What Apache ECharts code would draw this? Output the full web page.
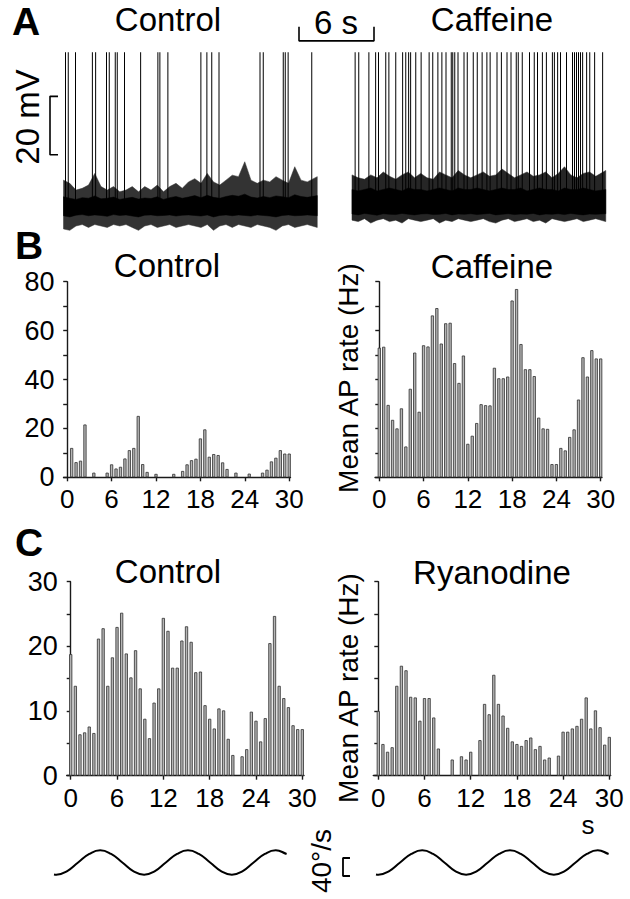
<!DOCTYPE html>
<html><head><meta charset="utf-8">
<script src="https://cdn.jsdelivr.net/npm/echarts@6/dist/echarts.min.js"></script>
<style>html,body{margin:0;padding:0;background:#fff}#c{width:630px;height:899px}</style>
</head><body><div id="c"></div>
<script>
// ---------- DATA ----------
const binTimes = [0,0.6,1.2,1.8,2.4,3,3.6,4.2,4.8,5.4,6,6.6,7.2,7.8,8.4,9,9.6,10.2,10.8,11.4,12,12.6,13.2,13.8,14.4,15,15.6,16.2,16.8,17.4,18,18.6,19.2,19.8,20.4,21,21.6,22.2,22.8,23.4,24,24.6,25.2,25.8,26.4,27,27.6,28.2,28.8,29.4,30];
const xTickValues = [0,6,12,18,24,30];
const rateControlB = [0,12,6.2,6.8,21.6,0,1.9,0,0,1.9,5.3,3.6,4.3,7.7,11.1,12,25.1,5.4,2.2,0,1.4,0,0,0,1.4,0,2.6,5.3,7,7.6,15.9,19.6,8.4,9.5,9.1,6.1,3.4,0,1.9,0,0,1.5,0,0,1.9,3.1,6.5,8,11.1,9.7,9.7];
const rateCaffeine = [53,53.4,29.6,23.5,20,28.2,12.6,36.2,51,26.8,54,53.5,66.2,69.2,54.7,63,63.2,46.7,38.6,49.8,13.7,17,22.2,29.9,29.5,29.4,44.8,40.5,40.5,41.2,72.3,77,54.5,44.2,44.2,41.4,24.4,20,19.8,5.4,5.4,12,11,16.5,19.6,31.8,49.1,41.2,52,48.6,48.6];
const rateControlC = [18.8,13.9,6.4,6.7,7.6,6.6,21.2,22.8,13.9,18.3,23.0,25.2,18.9,15.2,19.4,13.5,8.8,5.8,11.3,13.5,24.4,22.4,16.7,16.7,20.9,23.1,20.7,16.0,16.1,10.9,8.8,7.3,10.4,10.1,5.7,3.2,0,3.0,4.1,9.9,8.5,5.3,8.9,20.5,24.7,13.9,12.0,10.6,7.8,7.2,7.2];
const rateRyanodine = [10,4.9,3.7,4.4,13.9,17,16.3,12.2,12.1,8.5,12,12,9,4.2,0,0,2.5,0,3,2.5,3.7,0,5.5,11.1,9.5,15.6,11.1,9.3,7.4,5.3,4.9,4.6,5.5,5.9,4.1,4.6,2.5,2.8,0,3.1,6.8,6.8,7.3,7.7,8.8,12.1,7.3,10.1,7.5,4.8,6.0];

// Panel A: spike times (s) and membrane-noise envelope (mV relative to baseline), every 0.5 s
const spikeTimesControl = [0.16,0.38,0.96,2.31,2.57,3.44,3.66,4.14,4.30,4.88,6.17,7.55,7.71,8.35,10.99,11.47,11.86,12.44,15.72,15.98,17.58,17.74,17.97,19.86];
const spikeTimesCaffeine = [0.25,0.54,1.35,1.89,2.12,2.7,2.95,3.5,4.05,4.3,4.53,4.69,5.1,5.53,6.17,6.46,6.87,7.19,7.52,7.94,8.06,8.22,8.48,8.96,9.22,9.7,10.02,10.41,10.79,11.05,11.6,11.95,12.4,12.72,13.14,13.3,13.62,14.2,14.58,14.84,15.23,15.55,16.03,16.19,16.45,16.68,17.16,17.64,17.8,17.96,18.12,18.28,18.45,18.77,19.02,19.41,20.05];
const envTimes = [0,0.5,1,1.5,2,2.5,3,3.5,4,4.5,5,5.5,6,6.5,7,7.5,8,8.5,9,9.5,10,10.5,11,11.5,12,12.5,13,13.5,14,14.5,15,15.5,16,16.5,17,17.5,18,18.5,19,19.5,20.3];
const fringeTopControl = [9.2,8.1,5.8,6.4,7.5,11.5,7,5.8,7,5.2,5.8,7,5.2,7,5.8,7.5,5.2,7,8.1,6.4,8.6,9.7,8.1,11.5,8.6,7.5,9.2,10.9,10.4,15.5,9.2,8.1,9.2,8.6,10.4,9.2,8.1,13.8,9.2,8.6,10.4];
const coreTopControl = [3.5,3,2.6,3.2,3,3.8,2.8,3,3.4,2.6,3,3.3,2.7,3.1,2.9,3.5,2.6,3.2,3.6,3,3.4,3.9,3.2,4,3.3,3,3.6,4,3.7,4.4,3.4,3.1,3.6,3.2,3.8,3.5,3.2,4.2,3.6,3.3,3.9];
const coreBotControl = [-3,-3.4,-2.8,-2.6,-3,-2.7,-2.9,-3.2,-2.6,-2.9,-2.7,-3.1,-3.4,-2.8,-2.7,-3,-2.9,-2.7,-3.1,-2.8,-2.7,-2.9,-3.1,-2.7,-3.4,-2.9,-2.7,-3,-2.7,-2.9,-3.1,-2.7,-2.9,-3.1,-3.4,-2.9,-2.7,-3,-2.9,-2.7,-3];
const fringeBotControl = [-7.5,-8,-6.5,-6,-7,-6,-6.5,-7,-6,-6.5,-6,-7,-8,-6.5,-6,-7,-6.5,-6,-7,-6.5,-6,-6.5,-7,-6,-8,-6.5,-6,-7,-6,-6.5,-7,-6,-6.5,-7,-8,-6.5,-6,-7,-6.5,-6,-7];
const fringeTopCaffeine = [11,10,9.5,11,10,12,10.5,9.5,11,12,10,11.5,10,9.5,12,11,10,12.5,11,10,11,12,10.5,11,13,11.5,10,11,12,10.5,11,12,10,11.5,13.8,11,10,11.5,12,10.5,12.5];
const coreTopCaffeine = [6,5.5,6,6.5,5.5,6,6.5,6,5.5,6.5,6,6,5.5,6,6.5,6,5.5,6.5,6,6,6.5,6,5.5,6,6.5,6,6,6.5,5.5,6,6.5,6,6,5.5,6.5,6,6,6.5,6,5.5,6];
const coreBotCaffeine = [-2.4,-2.7,-2.2,-2.5,-2.8,-2.3,-2.5,-2.6,-2.2,-2.5,-2.7,-2.4,-2.3,-2.6,-2.5,-2.2,-2.7,-2.4,-2.5,-2.3,-2.6,-2.4,-2.2,-2.7,-2.5,-2.3,-2.6,-2.4,-2.5,-2.2,-2.7,-2.4,-2.5,-2.3,-2.6,-2.2,-2.5,-2.7,-2.4,-2.5,-2.3];
const fringeBotCaffeine = [-4.5,-5,-4,-5.5,-4.5,-4,-5,-4.5,-5.5,-4,-4.5,-5,-4.5,-4,-5.5,-4.5,-5,-4,-4.5,-5,-4.5,-4,-5,-5.5,-4.5,-4,-5,-4.5,-4,-5,-4.5,-5.5,-4,-4.5,-5,-4.5,-4,-5,-4.5,-4,-5];
const spikePeak = 53; // mV above baseline (traces clip here)

// Stimulus (head velocity, deg/s)
const stimTimes = [0,0.3,1.7,3.1,4.55,5.95,7.35,8.8,10.2,11.6,13.0,14.4,15.85,17.25,18.65,20.1,21.5,22.9,24.3,25.7,27.15,28.55,29.95,30];
const stimVel = [-26.5,-27,-19,0,19,27,19,0,-19,-27,-19,0,19,27,19,0,-19,-27,-19,0,19,27,19,18.5];

// ---------- LAYOUT ----------
const FONT = '"Liberation Sans", Arial, Helvetica, sans-serif';
const AX = '#1a1a1a';
const pxA = {t0: 63.5, sPerPx: 1/12.5, base: 207, pxPerMv: 2.92};
const caffOffset = (352 - 63.5) / 12.5;
const stimPxPerS = 233 / 30;

const chart = echarts.init(document.getElementById('c'), null, {renderer: 'svg', width: 630, height: 899});

function gridBox(left, top, width, height) { return {left, top, width, height, containLabel: false}; }
const grids = [
  gridBox(0, 0, 630, 240),             // 0 panel A
  gridBox(63.5, 281.7, 227, 195.6),    // 1 B control
  gridBox(375, 281.7, 227, 195.6),     // 2 B caffeine
  gridBox(66.7, 581.7, 237.3, 194),    // 3 C control
  gridBox(373.3, 581.7, 237.4, 194),   // 4 C ryanodine
  gridBox(54, 840, 233, 45),           // 5 stimulus left
  gridBox(340, 840, 269, 45)           // 6 stimulus right (+ scale bracket)
];

function histX(gi, min, max) {
  return {type: 'value', gridIndex: gi, min, max,
    axisLine: {show: true, onZero: false, lineStyle: {color: AX, width: 1.4}},
    axisTick: {show: true, customValues: xTickValues, length: 4, lineStyle: {color: AX, width: 1.4}},
    axisLabel: {show: true, customValues: xTickValues, fontSize: 26, fontFamily: FONT, color: '#000', margin: 9},
    splitLine: {show: false}};
}
function histY(gi, max, interval, labelStep, showLabels) {
  return {type: 'value', gridIndex: gi, min: 0, max, interval,
    axisLine: {show: true, lineStyle: {color: AX, width: 1.4}},
    axisTick: {show: true, length: 4, lineStyle: {color: AX, width: 1.4}},
    axisLabel: {show: showLabels, fontSize: 27, fontFamily: FONT, color: '#000', margin: 9,
      formatter: v => (v % labelStep === 0 ? String(v) : '')},
    splitLine: {show: false}};
}
const hidden = {show: false};
function hiddenAxis(gi, min, max) {
  return {type: 'value', gridIndex: gi, min, max, axisLine: hidden, axisTick: hidden, axisLabel: hidden, splitLine: hidden};
}

const xAxis = [
  hiddenAxis(0, -pxA.t0 * pxA.sPerPx, (630 - pxA.t0) * pxA.sPerPx),
  histX(1, -0.5, -0.5 + 227 / 7.4),
  histX(2, -0.58, -0.58 + 227 / 7.38),
  histX(3, -0.52, -0.52 + 237.3 / 7.72),
  histX(4, -0.65, -0.65 + 237.4 / 7.7),
  hiddenAxis(5, 0, 30),
  hiddenAxis(6, 30 - 269 / stimPxPerS, 30)
];
const yAxis = [
  hiddenAxis(0, (pxA.base - 240) / pxA.pxPerMv, pxA.base / pxA.pxPerMv),
  histY(1, 80, 10, 20, true),
  histY(2, 80, 10, 20, false),
  histY(3, 30, 5, 10, true),
  histY(4, 30, 5, 10, false),
  hiddenAxis(5, -50, 50),
  hiddenAxis(6, -50, 50)
];

function barSeries(gi, vals) {
  return {type: 'bar', xAxisIndex: gi, yAxisIndex: gi, barWidth: 3.2,
    data: binTimes.map((t, i) => [t, vals[i]]).filter(d => d[1] > 0),
    itemStyle: {color: '#b6b6b6', borderColor: '#383838', borderWidth: 0.85},
    silent: true, animation: false};
}

function bandSeries(offset, top, bot, fill) {
  return {type: 'custom', xAxisIndex: 0, yAxisIndex: 0, data: [0], silent: true, animation: false, clip: false,
    renderItem: (params, api) => {
      const pts = [];
      envTimes.forEach((t, i) => pts.push(api.coord([t + offset, top[i]])));
      for (let i = envTimes.length - 1; i >= 0; i--) pts.push(api.coord([envTimes[i] + offset, bot[i]]));
      return {type: 'polygon', shape: {points: pts}, style: {fill, stroke: fill, lineWidth: 0.5}};
    }};
}
function spikeSeries(offset, times) {
  return {type: 'custom', xAxisIndex: 0, yAxisIndex: 0, data: times.map(t => [t + offset]), silent: true, animation: false,
    renderItem: (params, api) => {
      const t = api.value(0);
      const a = api.coord([t, 0]);
      const b = api.coord([t, spikePeak]);
      return {type: 'line', shape: {x1: a[0], y1: a[1], x2: b[0], y2: b[1]}, style: {stroke: '#000', lineWidth: 1}};
    }};
}
function pathSeries(gi, pts, w) {
  return {type: 'line', xAxisIndex: gi, yAxisIndex: gi, data: pts, showSymbol: false, symbol: 'none',
    lineStyle: {color: '#000', width: w}, silent: true, animation: false};
}
// scale bars (in the data units of their panels)
const sb6s = [[18.84, 61.7], [18.84, 56.9], [24.84, 56.9], [24.84, 61.7]];
const sb20mV = [[-0.44, 37.9], [-1.08, 37.9], [-1.08, 17.9], [-0.44, 17.9]];
const sb40deg = [[-3.35, 10], [-4.25, 10], [-4.25, -30], [-3.35, -30]];

const stimPts = stimTimes.map((t, i) => [t, stimVel[i]]);
function stimSeries(gi) {
  return {type: 'line', xAxisIndex: gi, yAxisIndex: gi, data: stimPts, smooth: 0.5, showSymbol: false, symbol: 'none',
    lineStyle: {color: '#000', width: 2}, silent: true, animation: false};
}

function txt(text, x, y, size, opts = {}) {
  return {type: 'text', x, y, rotation: opts.rot || 0, silent: true,
    style: {text, fontSize: size, fontFamily: FONT, fontWeight: opts.bold ? 'bold' : 'normal', fill: '#000',
      align: 'center', verticalAlign: 'middle'}};
}

const option = {
  animation: false,
  backgroundColor: '#fff',
  grid: grids, xAxis, yAxis,
  series: [
    bandSeries(0, fringeTopControl, fringeBotControl, '#333'),
    bandSeries(0, coreTopControl, coreBotControl, '#000'),
    bandSeries(caffOffset, fringeTopCaffeine, fringeBotCaffeine, '#262626'),
    bandSeries(caffOffset, coreTopCaffeine, coreBotCaffeine, '#000'),
    spikeSeries(0, spikeTimesControl),
    spikeSeries(caffOffset, spikeTimesCaffeine),
    pathSeries(0, sb6s, 1.6),
    pathSeries(0, sb20mV, 1.6),
    pathSeries(6, sb40deg, 1.8),
    barSeries(1, rateControlB),
    barSeries(2, rateCaffeine),
    barSeries(3, rateControlC),
    barSeries(4, rateRyanodine),
    stimSeries(5),
    stimSeries(6)
  ],
  graphic: [
    txt('A', 26, 21, 39, {bold: true}),
    txt('B', 29, 245, 39, {bold: true}),
    txt('C', 29, 542, 39, {bold: true}),
    txt('Control', 168, 19, 33),
    txt('Caffeine', 492, 19, 33),
    txt('6 s', 336, 22, 33),
    txt('20 mV', 27, 117, 33, {rot: Math.PI / 2}),
    txt('Control', 167, 265, 33),
    txt('Caffeine', 492, 266, 33),
    txt('Control', 168, 571, 33),
    txt('Ryanodine', 492, 572, 33),
    txt('Mean AP rate (Hz)', 348, 378, 28, {rot: Math.PI / 2}),
    txt('Mean AP rate (Hz)', 348, 688, 28, {rot: Math.PI / 2}),
    txt('s', 588, 825, 26),
    txt('40°/s', 321, 861, 28, {rot: Math.PI / 2})
  ]
};
chart.setOption(option);
</script></body></html>
